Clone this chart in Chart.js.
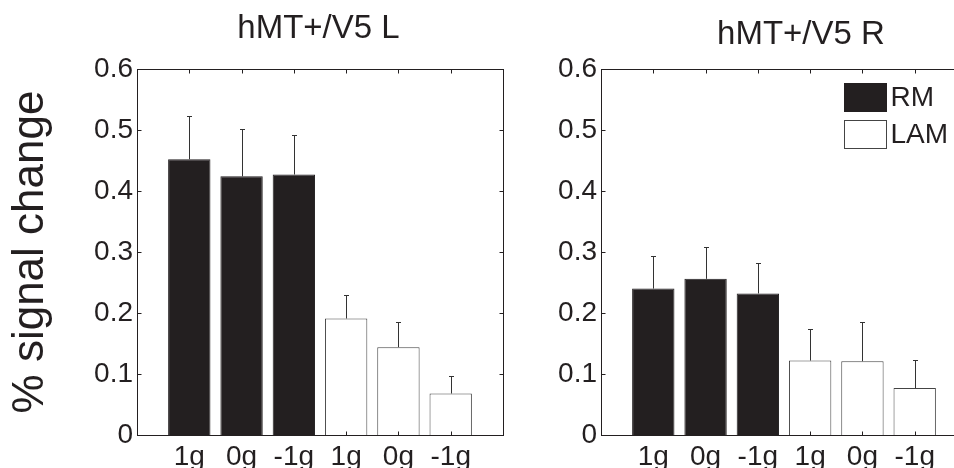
<!DOCTYPE html>
<html>
<head>
<meta charset="utf-8">
<script src="https://cdn.jsdelivr.net/npm/chart.js@4.4.1/dist/chart.umd.min.js"></script>
<style>
  html, body { margin: 0; padding: 0; background: #fff; overflow: hidden; }
  #wrap { position: relative; width: 954px; height: 468px; overflow: hidden; }
  #leftBox { position: absolute; left: 0; top: 0; }
  #rightBox { position: absolute; left: 545px; top: 0; }
</style>
</head>
<body>
<div id="wrap">
  <div id="leftBox"><canvas id="leftChart" width="560" height="490"></canvas></div>
  <div id="rightBox"><canvas id="rightChart" width="500" height="490"></canvas></div>
</div>
<script>
// data
const conditions = ['1g', '0g', '-1g'];
const seriesNames = ['RM', 'LAM'];

const leftRM = [0.452, 0.424, 0.427];
const leftRMErr = [0.071, 0.078, 0.064];
const leftLAM = [0.191, 0.144, 0.068];
const leftLAMErr = [0.039, 0.042, 0.029];

const rightRM = [0.240, 0.256, 0.232];
const rightRMErr = [0.053, 0.052, 0.050];
const rightLAM = [0.122, 0.121, 0.077];
const rightLAMErr = [0.052, 0.064, 0.046];

const yMin = 0, yMax = 0.6, yStep = 0.1;

const ink = '#231f20';
Chart.defaults.font.family = '"Liberation Sans", Arial, sans-serif';
Chart.defaults.color = ink;

// one empty slot on each side, like the matlab axes
const xLabels = ['', ...conditions, ...conditions, ''];
const pad = a => [null, ...a, null, null, null, null];
const padLam = a => [null, null, null, null, ...a, null];

// draw the boxed axes with inward ticks
const frame = {
    id: 'frame',
    afterDraw(chart) {
        const { ctx, chartArea: a } = chart;
        const xs = chart.scales.x, ys = chart.scales.y;
        const L = Math.round(a.left) + 0.5, R = Math.round(a.right) + 0.5;
        const T = Math.round(a.top) + 0.5, B = Math.round(a.bottom) + 0.5;
        ctx.save();
        ctx.strokeStyle = ink;
        ctx.lineWidth = 1;
        ctx.strokeRect(L, T, R - L, B - T);
        ctx.beginPath();
        ys.ticks.forEach(t => {
            const y = Math.round(ys.getPixelForValue(t.value)) + 0.5;
            ctx.moveTo(L, y); ctx.lineTo(L + 4, y);
            ctx.moveTo(R, y); ctx.lineTo(R - 4, y);
        });
        for (let i = 1; i < xLabels.length - 1; i++) {
            const x = Math.round(xs.getPixelForValue(i)) + 0.5;
            ctx.moveTo(x, B); ctx.lineTo(x, B - 4);
            ctx.moveTo(x, T); ctx.lineTo(x, T + 4);
        }
        ctx.stroke();
        ctx.restore();
    }
};

// one sided error bars
const errorBars = {
    id: 'errorBars',
    afterDatasetsDraw(chart) {
        const { ctx } = chart;
        const ys = chart.scales.y;
        ctx.save();
        ctx.strokeStyle = '#333';
        ctx.lineWidth = 1;
        chart.data.datasets.forEach((ds, di) => {
            const meta = chart.getDatasetMeta(di);
            ds.data.forEach((v, i) => {
                if (v == null) return;
                const bar = meta.data[i];
                const x = Math.round(bar.x) + 0.5;
                const top = Math.round(ys.getPixelForValue(v + ds.errors[i])) + 0.5;
                ctx.beginPath();
                ctx.moveTo(x, bar.y); ctx.lineTo(x, top);
                ctx.moveTo(x - 2.5, top); ctx.lineTo(x + 2.5, top);
                ctx.stroke();
            });
        });
        ctx.restore();
    }
};

const panelTitle = {
    id: 'panelTitle',
    afterDraw(chart, args, opts) {
        if (!opts.text) return;
        const { ctx, chartArea: a } = chart;
        ctx.save();
        ctx.font = '33px "Liberation Sans", Arial, sans-serif';
        ctx.fillStyle = ink;
        ctx.textAlign = 'center';
        ctx.textBaseline = 'alphabetic';
        ctx.fillText(opts.text, (a.left + a.right) / 2 + opts.shift, opts.baseline);
        ctx.restore();
    }
};

const boxLegend = {
    id: 'boxLegend',
    afterDraw(chart, args, opts) {
        if (!opts.show) return;
        const { ctx } = chart;
        ctx.save();
        ctx.font = '28px "Liberation Sans", Arial, sans-serif';
        ctx.textBaseline = 'middle';
        ctx.textAlign = 'left';
        chart.data.datasets.forEach((ds, i) => {
            const bx = opts.x + 0.5, by = opts.y + i * opts.gap + 0.5;
            ctx.fillStyle = ds.backgroundColor;
            ctx.fillRect(bx, by, opts.w, opts.h);
            ctx.strokeStyle = ds.borderColor;
            ctx.lineWidth = 1;
            ctx.strokeRect(bx, by, opts.w, opts.h);
            ctx.fillStyle = ink;
            ctx.fillText(ds.label, bx + opts.w + 4, by + opts.h / 2 + 1);
        });
        ctx.restore();
    }
};

function makePanel(id, rm, rmErr, lam, lamErr, cfg) {
    const el = document.getElementById(id);
    return new Chart(el, {
        type: 'bar',
        data: {
            labels: xLabels,
            datasets: [{
                label: seriesNames[0],
                data: pad(rm),
                errors: pad(rmErr),
                backgroundColor: ink,
                borderColor: ink,
                borderWidth: 1
            }, {
                label: seriesNames[1],
                data: padLam(lam),
                errors: padLam(lamErr),
                backgroundColor: '#ffffff',
                borderColor: '#444',
                borderWidth: 1
            }]
        },
        options: {
            responsive: false,
            animation: false,
            events: [],
            layout: { padding: { top: 69, right: cfg.padRight, bottom: 10, left: 0 } },
            datasets: { bar: { grouped: false, barPercentage: 0.81, categoryPercentage: 1 } },
            scales: {
                x: {
                    offset: false,
                    grid: { display: false, drawTicks: false },
                    border: { display: false },
                    ticks: { autoSkip: false, maxRotation: 0, padding: 5, font: { size: 28 } },
                    afterFit: s => { s.height = 45; }
                },
                y: {
                    min: yMin,
                    max: yMax,
                    grid: { display: false, drawTicks: false },
                    border: { display: false },
                    ticks: { stepSize: yStep, padding: 4, font: { size: 28 } },
                    title: {
                        display: cfg.yTitle,
                        text: '% signal change',
                        font: { size: 44 },
                        padding: { top: 4, bottom: 0 }
                    },
                    afterFit: s => { s.width = cfg.yWidth; }
                }
            },
            plugins: {
                legend: { display: false },
                tooltip: { enabled: false },
                panelTitle: { text: cfg.title, shift: cfg.titleShift, baseline: cfg.titleBaseline },
                boxLegend: cfg.legend
            }
        },
        plugins: [errorBars, frame, panelTitle, boxLegend]
    });
}

makePanel('leftChart', leftRM, leftRMErr, leftLAM, leftLAMErr, {
    padRight: 57, yWidth: 137, yTitle: true,
    title: 'hMT+/V5 L', titleShift: -1.5, titleBaseline: 38,
    legend: { show: false }
});

makePanel('rightChart', rightRM, rightRMErr, rightLAM, rightLAMErr, {
    padRight: 78, yWidth: 56, yTitle: false,
    title: 'hMT+/V5 R', titleShift: 17, titleBaseline: 44,
    legend: { show: true, x: 299, y: 83, w: 42, h: 28, gap: 37 }
});
</script>
</body>
</html>
